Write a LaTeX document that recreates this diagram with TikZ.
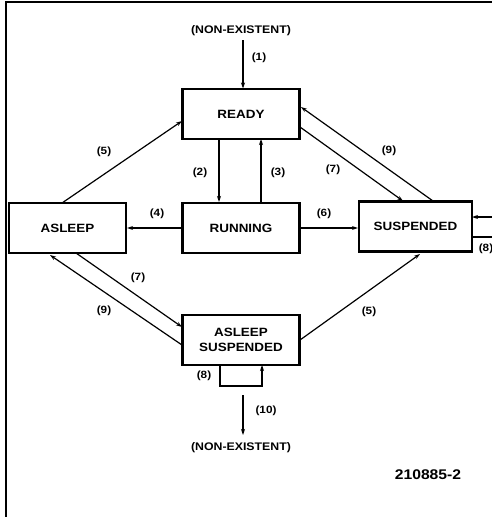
\documentclass[tikz,border=0pt]{standalone}
\usepackage{fontspec}
\setmainfont{Liberation Sans}[FakeStretch=1.12]
\usetikzlibrary{arrows.meta}
\begin{document}
\begin{tikzpicture}[x=1pt,y=-1pt,
  statebox/.style={draw,line width=2.2pt,minimum width=117pt,minimum height=50pt,inner sep=0pt,font=\bfseries\fontsize{12}{14}\selectfont,align=center},
  tr/.style={line width=1.2pt,-{Stealth[length=6pt,width=4pt]}},
  ln/.style={line width=1.2pt},
  lab/.style={font=\bfseries\fontsize{10.5}{12}\selectfont,inner sep=0pt},
  txt/.style={font=\bfseries\fontsize{11}{13}\selectfont,inner sep=0pt}]
\useasboundingbox (0,0) rectangle (492,517);
\fill[white] (0,0) rectangle (492,517);
\draw[line width=2pt] (6,517) -- (6,1.5) -- (492,1.5);
% states
\node[statebox] (ready) at (241,114) {READY};
\node[statebox] (running) at (241,228) {RUNNING};
\node[statebox] (asleep) at (67.5,228) {ASLEEP};
\node[statebox,minimum width=113pt] (susp) at (415.5,226.5) {SUSPENDED};
\node[statebox] (aslsusp) at (241,340) {ASLEEP\\[1pt]SUSPENDED};
\node[txt] (ne1) at (241,31) {(NON-EXISTENT)};
\node[txt] (ne2) at (241,448) {(NON-EXISTENT)};
\node[font=\bfseries\fontsize{14}{16}\selectfont,inner sep=0pt] (id) at (428,475) {210885-2};
% (1)
\draw[tr] (243,40) -- (243,88.5);
\node[lab] (l1) at (259,58) {(1)};
% (2) (3)
\draw[tr] (219,139) -- (219,202);
\node[lab] (l2) at (200,173) {(2)};
\draw[tr] (261,202) -- (261,139);
\node[lab] (l3) at (278,173) {(3)};
% (4) (6)
\draw[tr] (running.west) -- (asleep.east);
\node[lab] (l4) at (157,214) {(4)};
\draw[tr] (running.east) -- (running.east -| susp.west);
\node[lab] (l6) at (324,214) {(6)};
% (5) upper
\draw[tr] (62,203) -- (182,121);
\node[lab] (l5a) at (104,152) {(5)};
% (7) upper
\draw[tr] (300,127) -- (403,201);
\node[lab] (l7a) at (333,170) {(7)};
% (9) upper
\draw[tr] (433,201) -- (301,107);
\node[lab] (l9a) at (389,151) {(9)};
% (8) right
\draw[tr] (495,217) -- (472,217);
\draw[ln] (472,237) -- (495,237);
\node[lab] (l8a) at (486,249) {(8)};
% (7) lower
\draw[tr] (76,253) -- (182,327);
\node[lab] (l7b) at (138,278) {(7)};
% (9) lower
\draw[tr] (182,345) -- (50,255);
\node[lab] (l9b) at (104,311) {(9)};
% (5) lower
\draw[tr] (300,340) -- (420,254);
\node[lab] (l5b) at (369,312) {(5)};
% (8) lower loop
\draw[tr] (220,365) -- (220,386) -- (262,386) -- (262,365);
\node[lab] (l8b) at (204,376) {(8)};
% (10)
\draw[tr] (243,395) -- (243,435);
\node[lab] (l10) at (266,411) {(10)};
\end{tikzpicture}
\end{document}
